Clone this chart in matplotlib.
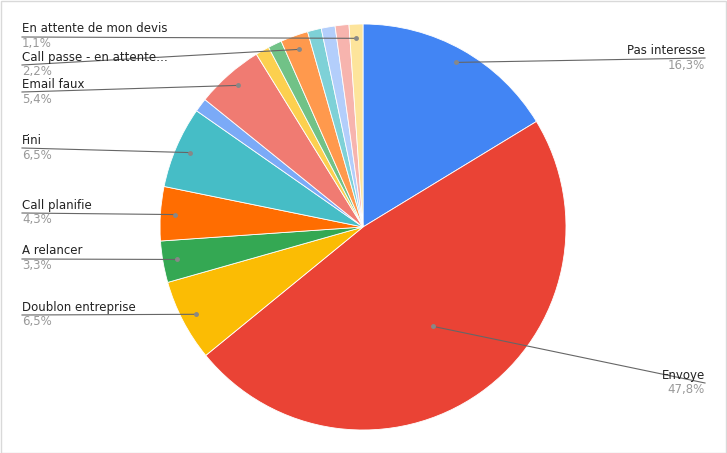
import matplotlib
matplotlib.use("Agg")
import matplotlib.pyplot as plt
import numpy as np

labels = ["Pas interesse", "Envoye", "Doublon entreprise", "A relancer", "Call planifie", "Fini",
          "Autre 1", "Email faux", "Autre 2", "Autre 3", "Call passe - en attente…",
          "Autre 4", "Autre 5", "Autre 6", "En attente de mon devis"]
values = [16.3, 47.8, 6.5, 3.3, 4.3, 6.5, 1.1, 5.4, 1.1, 1.1, 2.2, 1.1, 1.1, 1.1, 1.1]
colors = ["#4285f4", "#ea4335", "#fbbc04", "#34a853", "#ff6d01", "#46bdc6",
          "#7baaf7", "#f07b72", "#fcd04f", "#71c287", "#ff994d",
          "#7ed1d7", "#b3cefb", "#f7b4ae", "#fde49b"]
shown = {"Pas interesse": ("16,3%", "R", 50), "Envoye": ("47,8%", "R", 375),
         "Doublon entreprise": ("6,5%", "L", 307), "A relancer": ("3,3%", "L", 251),
         "Call planifie": ("4,3%", "L", 205), "Fini": ("6,5%", "L", 140),
         "Email faux": ("5,4%", "L", 84), "Call passe - en attente…": ("2,2%", "L", 57),
         "En attente de mon devis": ("1,1%", "L", 29)}

W, H = 727, 453
fig = plt.figure(figsize=(W/100, H/100), dpi=100)
ax = fig.add_axes([0, 0, 1, 1])
ax.set_xlim(0, W); ax.set_ylim(0, H); ax.axis("off")
cx, cy, R = 363, H-227, 203
wedges, _ = ax.pie(values, colors=colors, startangle=90, counterclock=False,
                   center=(cx, cy), radius=R, wedgeprops=dict(edgecolor="white", linewidth=0.6),
                   frame=True)
ax.set_xlim(0, W); ax.set_ylim(0, H); ax.axis("off"); ax.set_aspect("equal")

for w, lab in zip(wedges, labels):
    if lab not in shown:
        continue
    pct, side, ny = shown[lab]
    a = np.deg2rad((w.theta1 + w.theta2) / 2)
    r = 0.93 * R if lab != "Envoye" else 0.6 * R
    dx, dy = cx + r*np.cos(a), cy + r*np.sin(a)
    ly = H - (ny + 8)
    tx = 22 if side == "L" else 705
    ha = "left" if side == "L" else "right"
    ax.plot([tx, dx], [ly, dy], color="#666666", lw=0.8)
    ax.plot(dx, dy, "o", ms=2.5, color="#888888")
    ax.text(tx, H-ny, lab, ha=ha, va="center", fontsize=8.5, color="#222222")
    ax.text(tx, H-(ny+15), pct, ha=ha, va="center", fontsize=8.5, color="#999999")

fig.patches.append(plt.Rectangle((0.5/W, 0.5/H), 1-1.5/W, 1-1.5/H, transform=fig.transFigure,
                                 fill=False, edgecolor="#d9d9d9", lw=1))
fig.savefig("out.png", dpi=100)
